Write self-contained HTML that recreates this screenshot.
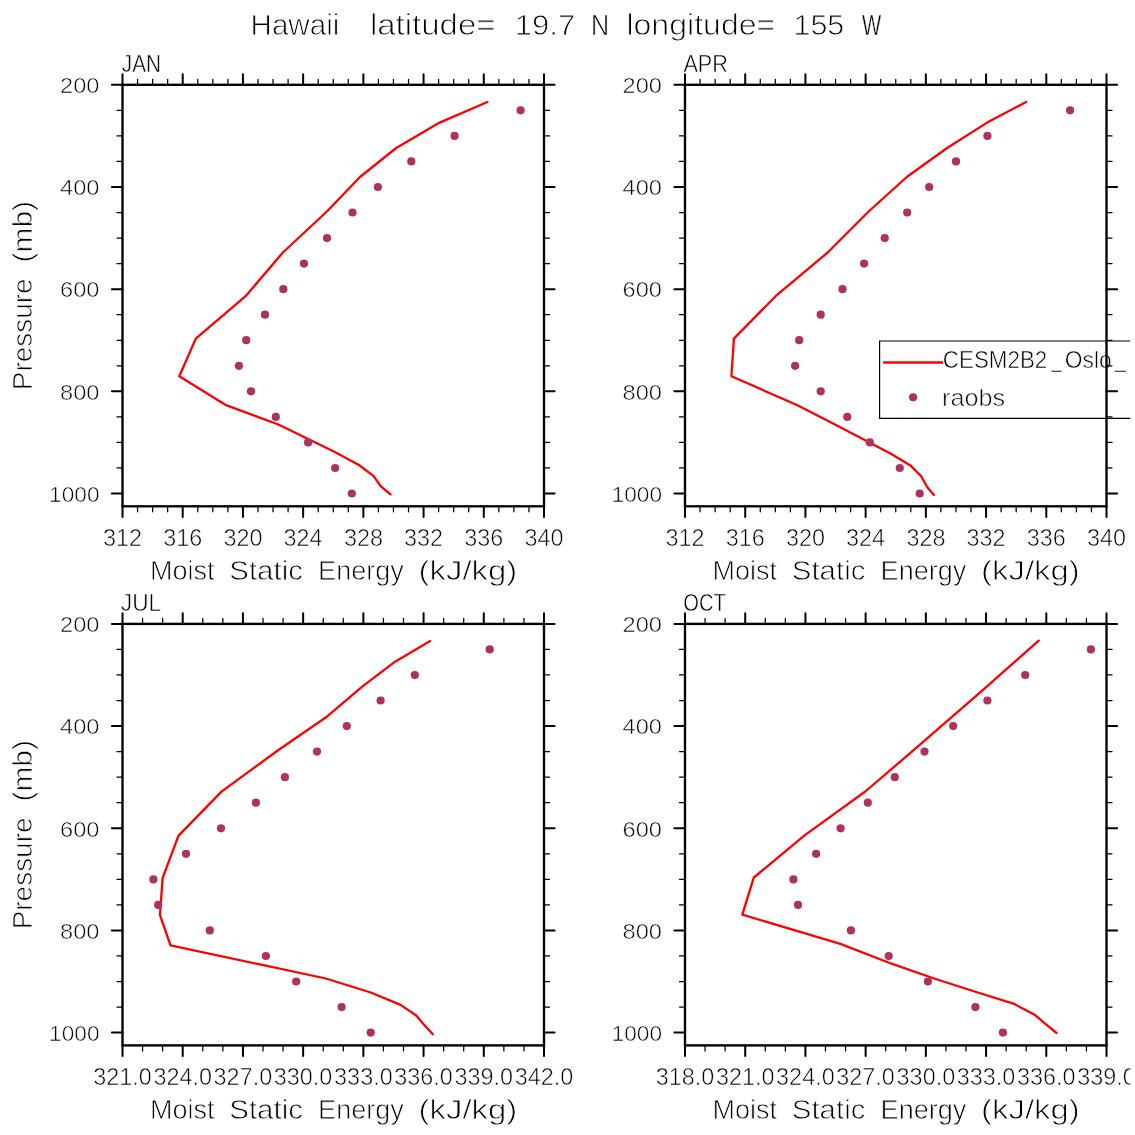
<!DOCTYPE html>
<html lang="en">
<head>
<meta charset="utf-8">
<title>Hawaii latitude= 19.7 N longitude= 155 W</title>
<style>
html,body{margin:0;padding:0;background:#fff;}
body{width:1135px;height:1135px;overflow:hidden;}
svg{display:block;}
text{font-family:"Liberation Sans", sans-serif;fill:#000;stroke:#fff;}
</style>
</head>
<body>
<svg width="1135" height="1135" viewBox="0 0 1135 1135">
<rect x="0" y="0" width="1135" height="1135" fill="#fff"/>
<text x="250.5" y="35.0" font-size="30.1" textLength="88.9" lengthAdjust="spacingAndGlyphs" stroke-width="0.88">Hawaii</text>
<text x="369.9" y="35.0" font-size="30.1" textLength="125.7" lengthAdjust="spacingAndGlyphs" stroke-width="0.9">latitude=</text>
<text x="514.8" y="35.0" font-size="30.1" textLength="60.4" lengthAdjust="spacingAndGlyphs" stroke-width="0.9">19.7</text>
<text x="591.1" y="35.0" font-size="30.1" textLength="18.1" lengthAdjust="spacingAndGlyphs" stroke-width="0.68">N</text>
<text x="626.4" y="35.0" font-size="30.1" textLength="148.9" lengthAdjust="spacingAndGlyphs" stroke-width="0.9">longitude=</text>
<text x="793.5" y="35.0" font-size="30.1" textLength="50.8" lengthAdjust="spacingAndGlyphs" stroke-width="0.9">155</text>
<text x="862.0" y="35.0" font-size="30.1" textLength="19.2" lengthAdjust="spacingAndGlyphs" stroke-width="0.46">W</text>
<g>
<path d="M1136,341 H879.6 V418.3 H1136" fill="none" stroke="#000" stroke-width="1.2"/>
<line x1="883.20" y1="362.50" x2="943.00" y2="362.50" stroke="#ff0000" stroke-width="2.3"/>
<circle cx="913.1" cy="397.3" r="4.1" fill="#b03060"/>
<text x="942.8" y="368.1" font-size="23.8" textLength="104.5" lengthAdjust="spacingAndGlyphs" stroke-width="0.56">CESM2B2</text>
<text x="1051.6" y="366.5" font-size="23.8" textLength="9.9" lengthAdjust="spacingAndGlyphs" stroke-width="0.35">_</text>
<text x="1064.8" y="368.1" font-size="23.8" textLength="47.0" lengthAdjust="spacingAndGlyphs" stroke-width="0.58">Oslo</text>
<text x="1115.0" y="366.5" font-size="23.8" textLength="10.8" lengthAdjust="spacingAndGlyphs" stroke-width="0.43">_</text>
<text x="942.0" y="406.0" font-size="23.8" textLength="63.1" lengthAdjust="spacingAndGlyphs" stroke-width="0.62">raobs</text>
</g>
<g>
<polyline points="487.4,102.0 439.7,122.6 396.2,148.0 360.0,177.0 327.4,211.0 282.9,252.5 245.6,296.2 195.8,338.6 179.3,376.2 226.1,405.2 278.3,424.5 333.3,451.3 358.9,465.0 373.4,475.8 380.9,486.3 390.5,494.4" fill="none" stroke="#ff0000" stroke-width="2.3" stroke-linejoin="round" stroke-linecap="round"/>
<circle cx="520.6" cy="110.3" r="4.1" fill="#b03060"/>
<circle cx="454.6" cy="135.9" r="4.1" fill="#b03060"/>
<circle cx="411.3" cy="161.4" r="4.1" fill="#b03060"/>
<circle cx="377.9" cy="187.0" r="4.1" fill="#b03060"/>
<circle cx="352.5" cy="212.5" r="4.1" fill="#b03060"/>
<circle cx="327.0" cy="238.1" r="4.1" fill="#b03060"/>
<circle cx="304.0" cy="263.6" r="4.1" fill="#b03060"/>
<circle cx="283.3" cy="289.2" r="4.1" fill="#b03060"/>
<circle cx="265.0" cy="314.7" r="4.1" fill="#b03060"/>
<circle cx="246.2" cy="340.2" r="4.1" fill="#b03060"/>
<circle cx="238.9" cy="365.8" r="4.1" fill="#b03060"/>
<circle cx="251.0" cy="391.3" r="4.1" fill="#b03060"/>
<circle cx="275.8" cy="416.9" r="4.1" fill="#b03060"/>
<circle cx="308.1" cy="442.4" r="4.1" fill="#b03060"/>
<circle cx="335.1" cy="468.0" r="4.1" fill="#b03060"/>
<circle cx="351.8" cy="493.5" r="4.1" fill="#b03060"/>
<path d="M137.55,84.80v-5.5M137.55,506.30v5.5M152.61,84.80v-5.5M152.61,506.30v5.5M167.66,84.80v-5.5M167.66,506.30v5.5M197.77,84.80v-5.5M197.77,506.30v5.5M212.82,84.80v-5.5M212.82,506.30v5.5M227.88,84.80v-5.5M227.88,506.30v5.5M257.98,84.80v-5.5M257.98,506.30v5.5M273.04,84.80v-5.5M273.04,506.30v5.5M288.09,84.80v-5.5M288.09,506.30v5.5M318.20,84.80v-5.5M318.20,506.30v5.5M333.25,84.80v-5.5M333.25,506.30v5.5M348.30,84.80v-5.5M348.30,506.30v5.5M378.41,84.80v-5.5M378.41,506.30v5.5M393.46,84.80v-5.5M393.46,506.30v5.5M408.52,84.80v-5.5M408.52,506.30v5.5M438.62,84.80v-5.5M438.62,506.30v5.5M453.68,84.80v-5.5M453.68,506.30v5.5M468.73,84.80v-5.5M468.73,506.30v5.5M498.84,84.80v-5.5M498.84,506.30v5.5M513.89,84.80v-5.5M513.89,506.30v5.5M528.95,84.80v-5.5M528.95,506.30v5.5M122.50,110.34h-5.5M544.00,110.34h5.5M122.50,135.89h-5.5M544.00,135.89h5.5M122.50,161.44h-5.5M544.00,161.44h5.5M122.50,212.53h-5.5M544.00,212.53h5.5M122.50,238.07h-5.5M544.00,238.07h5.5M122.50,263.62h-5.5M544.00,263.62h5.5M122.50,314.70h-5.5M544.00,314.70h5.5M122.50,340.25h-5.5M544.00,340.25h5.5M122.50,365.80h-5.5M544.00,365.80h5.5M122.50,416.89h-5.5M544.00,416.89h5.5M122.50,442.43h-5.5M544.00,442.43h5.5M122.50,467.98h-5.5M544.00,467.98h5.5" stroke="#000" stroke-width="1.25" fill="none" stroke-linecap="round"/>
<path d="M122.50,84.80v-10.6M122.50,506.30v10.6M182.71,84.80v-10.6M182.71,506.30v10.6M242.93,84.80v-10.6M242.93,506.30v10.6M303.14,84.80v-10.6M303.14,506.30v10.6M363.36,84.80v-10.6M363.36,506.30v10.6M423.57,84.80v-10.6M423.57,506.30v10.6M483.79,84.80v-10.6M483.79,506.30v10.6M544.00,84.80v-10.6M544.00,506.30v10.6M122.50,84.80h-10.6M544.00,84.80h10.6M122.50,186.98h-10.6M544.00,186.98h10.6M122.50,289.16h-10.6M544.00,289.16h10.6M122.50,391.34h-10.6M544.00,391.34h10.6M122.50,493.52h-10.6M544.00,493.52h10.6" stroke="#000" stroke-width="2.0" fill="none" stroke-linecap="round"/>
<rect x="122.50" y="84.80" width="421.5" height="421.5" fill="none" stroke="#000" stroke-width="2.35"/>
<text x="121.8" y="72.0" font-size="23.9" textLength="39.2" lengthAdjust="spacingAndGlyphs" stroke-width="0.48">JAN</text>
<text x="99.5" y="93.0" font-size="22.7" text-anchor="end" textLength="39.4" lengthAdjust="spacingAndGlyphs" stroke-width="0.57">200</text>
<text x="99.5" y="195.2" font-size="22.7" text-anchor="end" textLength="39.4" lengthAdjust="spacingAndGlyphs" stroke-width="0.57">400</text>
<text x="99.5" y="297.4" font-size="22.7" text-anchor="end" textLength="39.4" lengthAdjust="spacingAndGlyphs" stroke-width="0.57">600</text>
<text x="99.5" y="399.5" font-size="22.7" text-anchor="end" textLength="39.4" lengthAdjust="spacingAndGlyphs" stroke-width="0.57">800</text>
<text x="99.5" y="501.7" font-size="22.7" text-anchor="end" textLength="50.4" lengthAdjust="spacingAndGlyphs" stroke-width="0.57">1000</text>
<text x="122.5" y="546.0" font-size="23.0" text-anchor="middle" textLength="39.0" lengthAdjust="spacingAndGlyphs" stroke-width="0.58">312</text>
<text x="182.7" y="546.0" font-size="23.0" text-anchor="middle" textLength="39.0" lengthAdjust="spacingAndGlyphs" stroke-width="0.58">316</text>
<text x="242.9" y="546.0" font-size="23.0" text-anchor="middle" textLength="39.0" lengthAdjust="spacingAndGlyphs" stroke-width="0.58">320</text>
<text x="303.1" y="546.0" font-size="23.0" text-anchor="middle" textLength="39.0" lengthAdjust="spacingAndGlyphs" stroke-width="0.58">324</text>
<text x="363.4" y="546.0" font-size="23.0" text-anchor="middle" textLength="39.0" lengthAdjust="spacingAndGlyphs" stroke-width="0.58">328</text>
<text x="423.6" y="546.0" font-size="23.0" text-anchor="middle" textLength="39.0" lengthAdjust="spacingAndGlyphs" stroke-width="0.58">332</text>
<text x="483.8" y="546.0" font-size="23.0" text-anchor="middle" textLength="39.0" lengthAdjust="spacingAndGlyphs" stroke-width="0.58">336</text>
<text x="544.0" y="546.0" font-size="23.0" text-anchor="middle" textLength="39.0" lengthAdjust="spacingAndGlyphs" stroke-width="0.58">340</text>
<text x="150.1" y="580.2" font-size="27.0" textLength="64.5" lengthAdjust="spacingAndGlyphs" stroke-width="0.76">Moist</text>
<text x="229.3" y="580.2" font-size="27.0" textLength="73.6" lengthAdjust="spacingAndGlyphs" stroke-width="0.76">Static</text>
<text x="318.1" y="580.2" font-size="27.0" textLength="85.7" lengthAdjust="spacingAndGlyphs" stroke-width="0.76">Energy</text>
<text x="418.6" y="580.2" font-size="27.0" textLength="98.7" lengthAdjust="spacingAndGlyphs" stroke-width="0.76">(kJ/kg)</text>
<text x="31.7" y="390.2" font-size="27.0" textLength="111.8" lengthAdjust="spacingAndGlyphs" transform="rotate(-90 31.7 390.2)" stroke-width="0.76">Pressure</text>
<text x="31.7" y="262.4" font-size="27.0" textLength="61.5" lengthAdjust="spacingAndGlyphs" transform="rotate(-90 31.7 262.4)" stroke-width="0.76">(mb)</text>
</g>
<g>
<polyline points="1026.1,102.0 987.1,122.6 947.1,148.0 906.8,177.0 869.2,211.0 827.7,252.5 775.6,296.2 733.9,338.6 731.4,376.2 797.4,405.2 835.0,424.5 890.0,453.2 910.4,465.4 921.0,476.0 927.3,487.3 933.9,495.0" fill="none" stroke="#ff0000" stroke-width="2.3" stroke-linejoin="round" stroke-linecap="round"/>
<circle cx="1070.1" cy="110.3" r="4.1" fill="#b03060"/>
<circle cx="987.4" cy="135.9" r="4.1" fill="#b03060"/>
<circle cx="956.0" cy="161.4" r="4.1" fill="#b03060"/>
<circle cx="929.2" cy="187.0" r="4.1" fill="#b03060"/>
<circle cx="907.2" cy="212.5" r="4.1" fill="#b03060"/>
<circle cx="884.7" cy="238.1" r="4.1" fill="#b03060"/>
<circle cx="864.1" cy="263.6" r="4.1" fill="#b03060"/>
<circle cx="842.5" cy="289.2" r="4.1" fill="#b03060"/>
<circle cx="820.7" cy="314.7" r="4.1" fill="#b03060"/>
<circle cx="799.2" cy="340.2" r="4.1" fill="#b03060"/>
<circle cx="795.1" cy="365.8" r="4.1" fill="#b03060"/>
<circle cx="820.7" cy="391.3" r="4.1" fill="#b03060"/>
<circle cx="847.3" cy="416.9" r="4.1" fill="#b03060"/>
<circle cx="869.8" cy="442.4" r="4.1" fill="#b03060"/>
<circle cx="899.8" cy="468.0" r="4.1" fill="#b03060"/>
<circle cx="919.7" cy="493.5" r="4.1" fill="#b03060"/>
<path d="M700.05,84.80v-5.5M700.05,506.30v5.5M715.11,84.80v-5.5M715.11,506.30v5.5M730.16,84.80v-5.5M730.16,506.30v5.5M760.27,84.80v-5.5M760.27,506.30v5.5M775.32,84.80v-5.5M775.32,506.30v5.5M790.38,84.80v-5.5M790.38,506.30v5.5M820.48,84.80v-5.5M820.48,506.30v5.5M835.54,84.80v-5.5M835.54,506.30v5.5M850.59,84.80v-5.5M850.59,506.30v5.5M880.70,84.80v-5.5M880.70,506.30v5.5M895.75,84.80v-5.5M895.75,506.30v5.5M910.80,84.80v-5.5M910.80,506.30v5.5M940.91,84.80v-5.5M940.91,506.30v5.5M955.96,84.80v-5.5M955.96,506.30v5.5M971.02,84.80v-5.5M971.02,506.30v5.5M1001.12,84.80v-5.5M1001.12,506.30v5.5M1016.18,84.80v-5.5M1016.18,506.30v5.5M1031.23,84.80v-5.5M1031.23,506.30v5.5M1061.34,84.80v-5.5M1061.34,506.30v5.5M1076.39,84.80v-5.5M1076.39,506.30v5.5M1091.45,84.80v-5.5M1091.45,506.30v5.5M685.00,110.34h-5.5M1106.50,110.34h5.5M685.00,135.89h-5.5M1106.50,135.89h5.5M685.00,161.44h-5.5M1106.50,161.44h5.5M685.00,212.53h-5.5M1106.50,212.53h5.5M685.00,238.07h-5.5M1106.50,238.07h5.5M685.00,263.62h-5.5M1106.50,263.62h5.5M685.00,314.70h-5.5M1106.50,314.70h5.5M685.00,340.25h-5.5M1106.50,340.25h5.5M685.00,365.80h-5.5M1106.50,365.80h5.5M685.00,416.89h-5.5M1106.50,416.89h5.5M685.00,442.43h-5.5M1106.50,442.43h5.5M685.00,467.98h-5.5M1106.50,467.98h5.5" stroke="#000" stroke-width="1.25" fill="none" stroke-linecap="round"/>
<path d="M685.00,84.80v-10.6M685.00,506.30v10.6M745.21,84.80v-10.6M745.21,506.30v10.6M805.43,84.80v-10.6M805.43,506.30v10.6M865.64,84.80v-10.6M865.64,506.30v10.6M925.86,84.80v-10.6M925.86,506.30v10.6M986.07,84.80v-10.6M986.07,506.30v10.6M1046.29,84.80v-10.6M1046.29,506.30v10.6M1106.50,84.80v-10.6M1106.50,506.30v10.6M685.00,84.80h-10.6M1106.50,84.80h10.6M685.00,186.98h-10.6M1106.50,186.98h10.6M685.00,289.16h-10.6M1106.50,289.16h10.6M685.00,391.34h-10.6M1106.50,391.34h10.6M685.00,493.52h-10.6M1106.50,493.52h10.6" stroke="#000" stroke-width="2.0" fill="none" stroke-linecap="round"/>
<rect x="685.00" y="84.80" width="421.5" height="421.5" fill="none" stroke="#000" stroke-width="2.35"/>
<text x="683.4" y="72.0" font-size="23.9" textLength="44.5" lengthAdjust="spacingAndGlyphs" stroke-width="0.52">APR</text>
<text x="662.0" y="93.0" font-size="22.7" text-anchor="end" textLength="39.4" lengthAdjust="spacingAndGlyphs" stroke-width="0.57">200</text>
<text x="662.0" y="195.2" font-size="22.7" text-anchor="end" textLength="39.4" lengthAdjust="spacingAndGlyphs" stroke-width="0.57">400</text>
<text x="662.0" y="297.4" font-size="22.7" text-anchor="end" textLength="39.4" lengthAdjust="spacingAndGlyphs" stroke-width="0.57">600</text>
<text x="662.0" y="399.5" font-size="22.7" text-anchor="end" textLength="39.4" lengthAdjust="spacingAndGlyphs" stroke-width="0.57">800</text>
<text x="662.0" y="501.7" font-size="22.7" text-anchor="end" textLength="50.4" lengthAdjust="spacingAndGlyphs" stroke-width="0.57">1000</text>
<text x="685.0" y="546.0" font-size="23.0" text-anchor="middle" textLength="39.0" lengthAdjust="spacingAndGlyphs" stroke-width="0.58">312</text>
<text x="745.2" y="546.0" font-size="23.0" text-anchor="middle" textLength="39.0" lengthAdjust="spacingAndGlyphs" stroke-width="0.58">316</text>
<text x="805.4" y="546.0" font-size="23.0" text-anchor="middle" textLength="39.0" lengthAdjust="spacingAndGlyphs" stroke-width="0.58">320</text>
<text x="865.6" y="546.0" font-size="23.0" text-anchor="middle" textLength="39.0" lengthAdjust="spacingAndGlyphs" stroke-width="0.58">324</text>
<text x="925.9" y="546.0" font-size="23.0" text-anchor="middle" textLength="39.0" lengthAdjust="spacingAndGlyphs" stroke-width="0.58">328</text>
<text x="986.1" y="546.0" font-size="23.0" text-anchor="middle" textLength="39.0" lengthAdjust="spacingAndGlyphs" stroke-width="0.58">332</text>
<text x="1046.3" y="546.0" font-size="23.0" text-anchor="middle" textLength="39.0" lengthAdjust="spacingAndGlyphs" stroke-width="0.58">336</text>
<text x="1106.5" y="546.0" font-size="23.0" text-anchor="middle" textLength="39.0" lengthAdjust="spacingAndGlyphs" stroke-width="0.58">340</text>
<text x="712.6" y="580.2" font-size="27.0" textLength="64.5" lengthAdjust="spacingAndGlyphs" stroke-width="0.76">Moist</text>
<text x="791.8" y="580.2" font-size="27.0" textLength="73.6" lengthAdjust="spacingAndGlyphs" stroke-width="0.76">Static</text>
<text x="880.6" y="580.2" font-size="27.0" textLength="85.7" lengthAdjust="spacingAndGlyphs" stroke-width="0.76">Energy</text>
<text x="981.1" y="580.2" font-size="27.0" textLength="98.7" lengthAdjust="spacingAndGlyphs" stroke-width="0.76">(kJ/kg)</text>
</g>
<g>
<polyline points="430.1,641.1 395.1,661.7 361.9,686.9 327.5,716.2 278.1,750.2 221.5,791.6 178.4,835.9 162.6,878.2 160.0,915.2 170.5,945.3 256.3,963.7 325.8,978.5 370.7,992.5 400.6,1004.9 416.2,1015.5 423.6,1024.2 432.8,1034.3" fill="none" stroke="#ff0000" stroke-width="2.3" stroke-linejoin="round" stroke-linecap="round"/>
<circle cx="489.7" cy="649.4" r="4.1" fill="#b03060"/>
<circle cx="414.8" cy="675.0" r="4.1" fill="#b03060"/>
<circle cx="380.6" cy="700.5" r="4.1" fill="#b03060"/>
<circle cx="346.8" cy="726.1" r="4.1" fill="#b03060"/>
<circle cx="317.0" cy="751.6" r="4.1" fill="#b03060"/>
<circle cx="284.9" cy="777.2" r="4.1" fill="#b03060"/>
<circle cx="255.9" cy="802.7" r="4.1" fill="#b03060"/>
<circle cx="221.0" cy="828.3" r="4.1" fill="#b03060"/>
<circle cx="186.0" cy="853.8" r="4.1" fill="#b03060"/>
<circle cx="153.4" cy="879.4" r="4.1" fill="#b03060"/>
<circle cx="158.2" cy="904.9" r="4.1" fill="#b03060"/>
<circle cx="209.8" cy="930.4" r="4.1" fill="#b03060"/>
<circle cx="265.9" cy="956.0" r="4.1" fill="#b03060"/>
<circle cx="296.2" cy="981.5" r="4.1" fill="#b03060"/>
<circle cx="341.6" cy="1007.1" r="4.1" fill="#b03060"/>
<circle cx="370.7" cy="1032.6" r="4.1" fill="#b03060"/>
<path d="M142.57,623.90v-5.5M142.57,1045.40v5.5M162.64,623.90v-5.5M162.64,1045.40v5.5M202.79,623.90v-5.5M202.79,1045.40v5.5M222.86,623.90v-5.5M222.86,1045.40v5.5M263.00,623.90v-5.5M263.00,1045.40v5.5M283.07,623.90v-5.5M283.07,1045.40v5.5M323.21,623.90v-5.5M323.21,1045.40v5.5M343.29,623.90v-5.5M343.29,1045.40v5.5M383.43,623.90v-5.5M383.43,1045.40v5.5M403.50,623.90v-5.5M403.50,1045.40v5.5M443.64,623.90v-5.5M443.64,1045.40v5.5M463.71,623.90v-5.5M463.71,1045.40v5.5M503.86,623.90v-5.5M503.86,1045.40v5.5M523.93,623.90v-5.5M523.93,1045.40v5.5M122.50,649.44h-5.5M544.00,649.44h5.5M122.50,674.99h-5.5M544.00,674.99h5.5M122.50,700.53h-5.5M544.00,700.53h5.5M122.50,751.62h-5.5M544.00,751.62h5.5M122.50,777.17h-5.5M544.00,777.17h5.5M122.50,802.71h-5.5M544.00,802.71h5.5M122.50,853.80h-5.5M544.00,853.80h5.5M122.50,879.35h-5.5M544.00,879.35h5.5M122.50,904.89h-5.5M544.00,904.89h5.5M122.50,955.99h-5.5M544.00,955.99h5.5M122.50,981.53h-5.5M544.00,981.53h5.5M122.50,1007.08h-5.5M544.00,1007.08h5.5" stroke="#000" stroke-width="1.25" fill="none" stroke-linecap="round"/>
<path d="M122.50,623.90v-10.6M122.50,1045.40v10.6M182.71,623.90v-10.6M182.71,1045.40v10.6M242.93,623.90v-10.6M242.93,1045.40v10.6M303.14,623.90v-10.6M303.14,1045.40v10.6M363.36,623.90v-10.6M363.36,1045.40v10.6M423.57,623.90v-10.6M423.57,1045.40v10.6M483.79,623.90v-10.6M483.79,1045.40v10.6M544.00,623.90v-10.6M544.00,1045.40v10.6M122.50,623.90h-10.6M544.00,623.90h10.6M122.50,726.08h-10.6M544.00,726.08h10.6M122.50,828.26h-10.6M544.00,828.26h10.6M122.50,930.44h-10.6M544.00,930.44h10.6M122.50,1032.62h-10.6M544.00,1032.62h10.6" stroke="#000" stroke-width="2.0" fill="none" stroke-linecap="round"/>
<rect x="122.50" y="623.90" width="421.5" height="421.5" fill="none" stroke="#000" stroke-width="2.35"/>
<text x="120.8" y="611.1" font-size="23.9" textLength="40.4" lengthAdjust="spacingAndGlyphs" stroke-width="0.57">JUL</text>
<text x="99.5" y="632.1" font-size="22.7" text-anchor="end" textLength="39.4" lengthAdjust="spacingAndGlyphs" stroke-width="0.57">200</text>
<text x="99.5" y="734.3" font-size="22.7" text-anchor="end" textLength="39.4" lengthAdjust="spacingAndGlyphs" stroke-width="0.57">400</text>
<text x="99.5" y="836.5" font-size="22.7" text-anchor="end" textLength="39.4" lengthAdjust="spacingAndGlyphs" stroke-width="0.57">600</text>
<text x="99.5" y="938.6" font-size="22.7" text-anchor="end" textLength="39.4" lengthAdjust="spacingAndGlyphs" stroke-width="0.57">800</text>
<text x="99.5" y="1040.8" font-size="22.7" text-anchor="end" textLength="50.4" lengthAdjust="spacingAndGlyphs" stroke-width="0.57">1000</text>
<text x="122.5" y="1085.1" font-size="23.0" text-anchor="middle" textLength="58.6" lengthAdjust="spacingAndGlyphs" stroke-width="0.58">321.0</text>
<text x="182.7" y="1085.1" font-size="23.0" text-anchor="middle" textLength="58.6" lengthAdjust="spacingAndGlyphs" stroke-width="0.58">324.0</text>
<text x="242.9" y="1085.1" font-size="23.0" text-anchor="middle" textLength="58.6" lengthAdjust="spacingAndGlyphs" stroke-width="0.58">327.0</text>
<text x="303.1" y="1085.1" font-size="23.0" text-anchor="middle" textLength="58.6" lengthAdjust="spacingAndGlyphs" stroke-width="0.58">330.0</text>
<text x="363.4" y="1085.1" font-size="23.0" text-anchor="middle" textLength="58.6" lengthAdjust="spacingAndGlyphs" stroke-width="0.58">333.0</text>
<text x="423.6" y="1085.1" font-size="23.0" text-anchor="middle" textLength="58.6" lengthAdjust="spacingAndGlyphs" stroke-width="0.58">336.0</text>
<text x="483.8" y="1085.1" font-size="23.0" text-anchor="middle" textLength="58.6" lengthAdjust="spacingAndGlyphs" stroke-width="0.58">339.0</text>
<text x="544.0" y="1085.1" font-size="23.0" text-anchor="middle" textLength="58.6" lengthAdjust="spacingAndGlyphs" stroke-width="0.58">342.0</text>
<text x="150.1" y="1119.3" font-size="27.0" textLength="64.5" lengthAdjust="spacingAndGlyphs" stroke-width="0.76">Moist</text>
<text x="229.3" y="1119.3" font-size="27.0" textLength="73.6" lengthAdjust="spacingAndGlyphs" stroke-width="0.76">Static</text>
<text x="318.1" y="1119.3" font-size="27.0" textLength="85.7" lengthAdjust="spacingAndGlyphs" stroke-width="0.76">Energy</text>
<text x="418.6" y="1119.3" font-size="27.0" textLength="98.7" lengthAdjust="spacingAndGlyphs" stroke-width="0.76">(kJ/kg)</text>
<text x="31.7" y="929.3" font-size="27.0" textLength="111.8" lengthAdjust="spacingAndGlyphs" transform="rotate(-90 31.7 929.3)" stroke-width="0.76">Pressure</text>
<text x="31.7" y="801.5" font-size="27.0" textLength="61.5" lengthAdjust="spacingAndGlyphs" transform="rotate(-90 31.7 801.5)" stroke-width="0.76">(mb)</text>
</g>
<g>
<polyline points="1038.7,640.6 1014.9,661.7 986.5,686.9 952.8,716.2 913.6,750.2 865.3,791.5 804.9,835.1 753.8,877.5 742.3,914.6 840.4,943.9 891.5,963.7 934.1,978.5 977.7,992.5 1013.4,1003.6 1034.6,1014.7 1045.7,1024.2 1056.5,1033.0" fill="none" stroke="#ff0000" stroke-width="2.3" stroke-linejoin="round" stroke-linecap="round"/>
<circle cx="1090.9" cy="649.4" r="4.1" fill="#b03060"/>
<circle cx="1025.2" cy="675.0" r="4.1" fill="#b03060"/>
<circle cx="987.4" cy="700.5" r="4.1" fill="#b03060"/>
<circle cx="953.2" cy="726.1" r="4.1" fill="#b03060"/>
<circle cx="924.5" cy="751.6" r="4.1" fill="#b03060"/>
<circle cx="894.8" cy="777.2" r="4.1" fill="#b03060"/>
<circle cx="867.8" cy="802.7" r="4.1" fill="#b03060"/>
<circle cx="840.6" cy="828.3" r="4.1" fill="#b03060"/>
<circle cx="816.1" cy="853.8" r="4.1" fill="#b03060"/>
<circle cx="793.4" cy="879.4" r="4.1" fill="#b03060"/>
<circle cx="798.0" cy="904.9" r="4.1" fill="#b03060"/>
<circle cx="850.9" cy="930.4" r="4.1" fill="#b03060"/>
<circle cx="888.7" cy="956.0" r="4.1" fill="#b03060"/>
<circle cx="927.9" cy="981.5" r="4.1" fill="#b03060"/>
<circle cx="975.4" cy="1007.1" r="4.1" fill="#b03060"/>
<circle cx="1002.9" cy="1032.6" r="4.1" fill="#b03060"/>
<path d="M705.07,623.90v-5.5M705.07,1045.40v5.5M725.14,623.90v-5.5M725.14,1045.40v5.5M765.29,623.90v-5.5M765.29,1045.40v5.5M785.36,623.90v-5.5M785.36,1045.40v5.5M825.50,623.90v-5.5M825.50,1045.40v5.5M845.57,623.90v-5.5M845.57,1045.40v5.5M885.71,623.90v-5.5M885.71,1045.40v5.5M905.79,623.90v-5.5M905.79,1045.40v5.5M945.93,623.90v-5.5M945.93,1045.40v5.5M966.00,623.90v-5.5M966.00,1045.40v5.5M1006.14,623.90v-5.5M1006.14,1045.40v5.5M1026.21,623.90v-5.5M1026.21,1045.40v5.5M1066.36,623.90v-5.5M1066.36,1045.40v5.5M1086.43,623.90v-5.5M1086.43,1045.40v5.5M685.00,649.44h-5.5M1106.50,649.44h5.5M685.00,674.99h-5.5M1106.50,674.99h5.5M685.00,700.53h-5.5M1106.50,700.53h5.5M685.00,751.62h-5.5M1106.50,751.62h5.5M685.00,777.17h-5.5M1106.50,777.17h5.5M685.00,802.71h-5.5M1106.50,802.71h5.5M685.00,853.80h-5.5M1106.50,853.80h5.5M685.00,879.35h-5.5M1106.50,879.35h5.5M685.00,904.89h-5.5M1106.50,904.89h5.5M685.00,955.99h-5.5M1106.50,955.99h5.5M685.00,981.53h-5.5M1106.50,981.53h5.5M685.00,1007.08h-5.5M1106.50,1007.08h5.5" stroke="#000" stroke-width="1.25" fill="none" stroke-linecap="round"/>
<path d="M685.00,623.90v-10.6M685.00,1045.40v10.6M745.21,623.90v-10.6M745.21,1045.40v10.6M805.43,623.90v-10.6M805.43,1045.40v10.6M865.64,623.90v-10.6M865.64,1045.40v10.6M925.86,623.90v-10.6M925.86,1045.40v10.6M986.07,623.90v-10.6M986.07,1045.40v10.6M1046.29,623.90v-10.6M1046.29,1045.40v10.6M1106.50,623.90v-10.6M1106.50,1045.40v10.6M685.00,623.90h-10.6M1106.50,623.90h10.6M685.00,726.08h-10.6M1106.50,726.08h10.6M685.00,828.26h-10.6M1106.50,828.26h10.6M685.00,930.44h-10.6M1106.50,930.44h10.6M685.00,1032.62h-10.6M1106.50,1032.62h10.6" stroke="#000" stroke-width="2.0" fill="none" stroke-linecap="round"/>
<rect x="685.00" y="623.90" width="421.5" height="421.5" fill="none" stroke="#000" stroke-width="2.35"/>
<text x="683.3" y="611.1" font-size="23.9" textLength="42.6" lengthAdjust="spacingAndGlyphs" stroke-width="0.46">OCT</text>
<text x="662.0" y="632.1" font-size="22.7" text-anchor="end" textLength="39.4" lengthAdjust="spacingAndGlyphs" stroke-width="0.57">200</text>
<text x="662.0" y="734.3" font-size="22.7" text-anchor="end" textLength="39.4" lengthAdjust="spacingAndGlyphs" stroke-width="0.57">400</text>
<text x="662.0" y="836.5" font-size="22.7" text-anchor="end" textLength="39.4" lengthAdjust="spacingAndGlyphs" stroke-width="0.57">600</text>
<text x="662.0" y="938.6" font-size="22.7" text-anchor="end" textLength="39.4" lengthAdjust="spacingAndGlyphs" stroke-width="0.57">800</text>
<text x="662.0" y="1040.8" font-size="22.7" text-anchor="end" textLength="50.4" lengthAdjust="spacingAndGlyphs" stroke-width="0.57">1000</text>
<text x="685.0" y="1085.1" font-size="23.0" text-anchor="middle" textLength="58.6" lengthAdjust="spacingAndGlyphs" stroke-width="0.58">318.0</text>
<text x="745.2" y="1085.1" font-size="23.0" text-anchor="middle" textLength="58.6" lengthAdjust="spacingAndGlyphs" stroke-width="0.58">321.0</text>
<text x="805.4" y="1085.1" font-size="23.0" text-anchor="middle" textLength="58.6" lengthAdjust="spacingAndGlyphs" stroke-width="0.58">324.0</text>
<text x="865.6" y="1085.1" font-size="23.0" text-anchor="middle" textLength="58.6" lengthAdjust="spacingAndGlyphs" stroke-width="0.58">327.0</text>
<text x="925.9" y="1085.1" font-size="23.0" text-anchor="middle" textLength="58.6" lengthAdjust="spacingAndGlyphs" stroke-width="0.58">330.0</text>
<text x="986.1" y="1085.1" font-size="23.0" text-anchor="middle" textLength="58.6" lengthAdjust="spacingAndGlyphs" stroke-width="0.58">333.0</text>
<text x="1046.3" y="1085.1" font-size="23.0" text-anchor="middle" textLength="58.6" lengthAdjust="spacingAndGlyphs" stroke-width="0.58">336.0</text>
<text x="1106.5" y="1085.1" font-size="23.0" text-anchor="middle" textLength="58.6" lengthAdjust="spacingAndGlyphs" stroke-width="0.58">339.0</text>
<text x="712.6" y="1119.3" font-size="27.0" textLength="64.5" lengthAdjust="spacingAndGlyphs" stroke-width="0.76">Moist</text>
<text x="791.8" y="1119.3" font-size="27.0" textLength="73.6" lengthAdjust="spacingAndGlyphs" stroke-width="0.76">Static</text>
<text x="880.6" y="1119.3" font-size="27.0" textLength="85.7" lengthAdjust="spacingAndGlyphs" stroke-width="0.76">Energy</text>
<text x="981.1" y="1119.3" font-size="27.0" textLength="98.7" lengthAdjust="spacingAndGlyphs" stroke-width="0.76">(kJ/kg)</text>
</g>
<rect x="1130.3" y="0" width="6" height="1135" fill="#fff"/>
</svg>
</body>
</html>
